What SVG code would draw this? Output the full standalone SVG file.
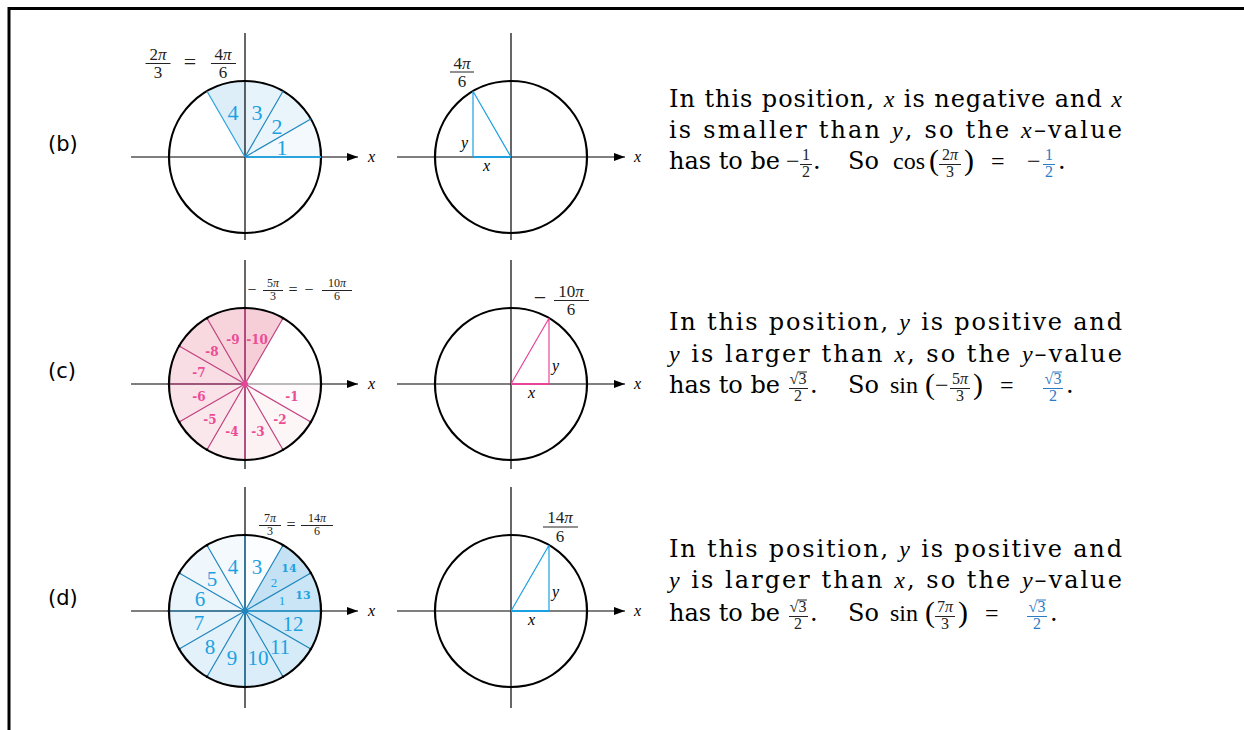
<svg xmlns="http://www.w3.org/2000/svg" width="1244" height="730" viewBox="0 0 1244 730">
<style>
.ax{stroke:#000;stroke-width:1.2;fill:none}
.circ{fill:none;stroke:#000;stroke-width:2.2}
.t{font-family:"DejaVu Serif",serif;font-size:24px;fill:#000}
.mi{font-family:"Liberation Serif",serif;font-style:italic}
.rm{font-family:"Liberation Serif",serif}
.fr{font-family:"Liberation Serif",serif;font-size:17px;text-anchor:middle;fill:#222}
.f15{font-size:16px}
.frs{font-family:"Liberation Serif",serif;font-size:12px;text-anchor:middle;fill:#222}
.fb{stroke:#222;stroke-width:1}
.lab{font-family:"DejaVu Sans",sans-serif;font-size:21px;fill:#000}
.axl{font-family:"Liberation Serif",serif;font-style:italic;font-size:16px;fill:#000}
.bn{font-family:"Liberation Serif",serif;font-size:22px;fill:#1ba1e2;text-anchor:middle}
.dn{font-family:"Liberation Serif",serif;font-size:21px;fill:#1ba1e2;text-anchor:middle}
.ds{font-family:"Liberation Serif",serif;font-size:13px;fill:#1ba1e2;text-anchor:middle}
.db{font-family:"DejaVu Serif",serif;font-weight:bold;font-size:11px;fill:#1ba1e2;text-anchor:middle}
.cn{font-family:"DejaVu Serif",serif;font-weight:bold;font-size:12px;fill:#ec4c95;text-anchor:middle}
.bs{fill:#1b8fd6}
.cs{fill:#e0607e}
.bl{stroke:#1f86bd;stroke-width:1.2;fill:none}
.pl{stroke:#c0407e;stroke-width:1.2;fill:none}
.tri{fill:none;stroke-width:1.2}
.blue{fill:#2b7bc4}
.bbar{stroke:#2b7bc4;stroke-width:1}
.par{font-family:"Liberation Serif",serif;font-size:30px;fill:#000}
.op{font-family:"Liberation Serif",serif;font-size:24px;fill:#000}
</style>
<defs>
<marker id="arr" markerWidth="12" markerHeight="10" refX="11" refY="5" orient="auto" markerUnits="userSpaceOnUse"><path d="M0,1 L11,5 L0,9 z" fill="#000"/></marker>
</defs>

<g id="frame">
<line x1="9" y1="8.5" x2="1244" y2="8.5" stroke="#000" stroke-width="3"/>
<line x1="9" y1="7" x2="9" y2="730" stroke="#000" stroke-width="3"/>
</g>

<g id="labels">
<text class="lab" x="48" y="151">(b)</text>
<text class="lab" x="48" y="378">(c)</text>
<text class="lab" x="48" y="605">(d)</text>
</g>

<!-- ROW B -->
<g id="b-left">
<path class="bs" fill-opacity="0.05" d="M245,157 L321,157 A76,76 0 0 0 310.82,119 Z"/>
<path class="bs" fill-opacity="0.09" d="M245,157 L310.82,119 A76,76 0 0 0 283,91.18 Z"/>
<path class="bs" fill-opacity="0.11" d="M245,157 L283,91.18 A76,76 0 0 0 245,81 Z"/>
<path class="bs" fill-opacity="0.15" d="M245,157 L245,81 A76,76 0 0 0 207,91.18 Z"/>
<line class="ax" x1="131" y1="157" x2="358" y2="157" marker-end="url(#arr)"/>
<line class="ax" x1="245" y1="33" x2="245" y2="240"/>
<circle class="circ" cx="245" cy="157" r="76"/>
<line x1="245" y1="157" x2="321" y2="157" stroke="#29a3dd" stroke-width="2"/>
<line class="bl" x1="245" y1="157" x2="310.82" y2="119"/>
<line class="bl" x1="245" y1="157" x2="283" y2="91.18"/>
<line x1="245" y1="157" x2="207" y2="91.18" stroke="#29a3dd" stroke-width="1.2"/>
<text class="bn" x="282" y="155">1</text>
<text class="bn" x="277" y="134">2</text>
<text class="bn" x="257" y="120">3</text>
<text class="bn" x="233" y="120">4</text>
<text class="axl" x="368" y="162">x</text>
<text class="fr" x="158" y="60">2<tspan class="mi">π</tspan></text>
<line class="fb" x1="145.5" y1="63.5" x2="170.5" y2="63.5"/>
<text class="fr" x="158" y="78">3</text>
<text class="fr" x="190" y="69" style="font-size:22px">=</text>
<text class="fr" x="223" y="60">4<tspan class="mi">π</tspan></text>
<line class="fb" x1="211" y1="63.5" x2="236" y2="63.5"/>
<text class="fr" x="223" y="78">6</text>
</g>

<g id="b-right">
<line class="ax" x1="397" y1="157" x2="625" y2="157" marker-end="url(#arr)"/>
<line class="ax" x1="511" y1="33" x2="511" y2="240"/>
<circle class="circ" cx="511" cy="157" r="76"/>
<path class="tri" stroke="#1ba1e2" d="M473,91.18 L473,157 M511,157 L473,91.18"/>
<line x1="473" y1="157" x2="511" y2="157" stroke="#1ba1e2" stroke-width="2.2"/>
<text class="axl" x="461" y="148">y</text>
<text class="axl" x="483" y="171">x</text>
<text class="axl" x="634" y="162">x</text>
<text class="fr" x="462" y="69">4<tspan class="mi">π</tspan></text>
<line class="fb" x1="450" y1="72" x2="474" y2="72"/>
<text class="fr" x="462" y="87">6</text>
</g>

<g id="b-text">
<text class="t" x="669" y="107" textLength="453" lengthAdjust="spacing">In this position, <tspan class="mi">x</tspan> is negative and <tspan class="mi">x</tspan></text>
<text class="t" x="669" y="138" textLength="453" lengthAdjust="spacing">is smaller than <tspan class="mi">y</tspan>, so the <tspan class="mi">x</tspan>–value</text>
<text class="t" x="669" y="169">has to be</text>
<text class="op" x="786" y="169">−</text>
<text class="fr f15" x="806" y="160">1</text>
<line class="fb" x1="800" y1="164.5" x2="812" y2="164.5"/>
<text class="fr f15" x="806" y="177">2</text>
<text class="t" x="813" y="169">.</text>
<text class="t" x="848" y="169">So</text>
<text class="op" x="893" y="169">cos</text>
<text class="par" x="929" y="170">(</text>
<text class="fr f15" x="950" y="160">2<tspan class="mi">π</tspan></text>
<line class="fb" x1="939" y1="164.5" x2="961" y2="164.5"/>
<text class="fr f15" x="950" y="177">3</text>
<text class="par" x="964" y="170">)</text>
<text class="op" x="991" y="169">=</text>
<text class="op blue" x="1027" y="169">−</text>
<text class="fr f15 blue" x="1049" y="160">1</text>
<line class="bbar" x1="1043" y1="164.5" x2="1055" y2="164.5"/>
<text class="fr f15 blue" x="1049" y="177">2</text>
<text class="t" x="1058" y="169">.</text>
</g>

<!-- ROW C -->
<g id="c-left">
<path class="cs" fill-opacity="0.03" d="M245,384 L321,384 A76,76 0 0 1 310.82,422 Z"/>
<path class="cs" fill-opacity="0.06" d="M245,384 L310.82,422 A76,76 0 0 1 283,449.82 Z"/>
<path class="cs" fill-opacity="0.09" d="M245,384 L283,449.82 A76,76 0 0 1 245,460 Z"/>
<path class="cs" fill-opacity="0.12" d="M245,384 L245,460 A76,76 0 0 1 207,449.82 Z"/>
<path class="cs" fill-opacity="0.15" d="M245,384 L207,449.82 A76,76 0 0 1 179.18,422 Z"/>
<path class="cs" fill-opacity="0.18" d="M245,384 L179.18,422 A76,76 0 0 1 169,384 Z"/>
<path class="cs" fill-opacity="0.21" d="M245,384 L169,384 A76,76 0 0 1 179.18,346 Z"/>
<path class="cs" fill-opacity="0.24" d="M245,384 L179.18,346 A76,76 0 0 1 207,318.18 Z"/>
<path class="cs" fill-opacity="0.27" d="M245,384 L207,318.18 A76,76 0 0 1 245,308 Z"/>
<path class="cs" fill-opacity="0.31" d="M245,384 L245,308 A76,76 0 0 1 283,318.18 Z"/>
<line class="ax" x1="131" y1="384" x2="358" y2="384" marker-end="url(#arr)"/>
<line class="ax" x1="245" y1="260" x2="245" y2="469"/>
<circle class="circ" cx="245" cy="384" r="76"/>
<line x1="245" y1="384" x2="321" y2="384" stroke="#bbb" stroke-width="2"/>
<path class="pl" d="M245,384 L310.82,422 M245,384 L283,449.82 M245,384 L207,449.82 M245,384 L179.18,422 M245,384 L169,384 M245,384 L179.18,346 M245,384 L207,318.18 M245,384 L283,318.18"/>
<path stroke="#e8459a" stroke-width="1.2" d="M245,308 L245,460"/>
<circle cx="245" cy="384" r="3" fill="#e8459a"/>
<g fill="#000">
<circle cx="310.82" cy="422" r="1.3"/><circle cx="283" cy="449.82" r="1.3"/><circle cx="245" cy="460" r="1.3"/><circle cx="207" cy="449.82" r="1.3"/><circle cx="179.18" cy="422" r="1.3"/><circle cx="169" cy="384" r="1.3"/><circle cx="179.18" cy="346" r="1.3"/><circle cx="207" cy="318.18" r="1.3"/><circle cx="245" cy="308" r="1.3"/><circle cx="283" cy="318.18" r="1.3"/><circle cx="321" cy="384" r="1.3"/>
</g>
<text class="cn" x="292" y="401">-1</text>
<text class="cn" x="280" y="424">-2</text>
<text class="cn" x="258" y="436">-3</text>
<text class="cn" x="232" y="436">-4</text>
<text class="cn" x="210" y="424">-5</text>
<text class="cn" x="199" y="401">-6</text>
<text class="cn" x="199" y="377">-7</text>
<text class="cn" x="212" y="356">-8</text>
<text class="cn" x="233" y="344">-9</text>
<text class="cn" x="257" y="344">-10</text>
<text class="axl" x="368" y="389">x</text>
<text class="frs" x="252" y="295" style="font-size:16px">−</text>
<text class="frs" x="273" y="287">5<tspan class="mi">π</tspan></text>
<line class="fb" x1="263" y1="290.5" x2="283" y2="290.5" stroke-width="0.8"/>
<text class="frs" x="273" y="300">3</text>
<text class="frs" x="293" y="295" style="font-size:16px">=</text>
<text class="frs" x="309" y="295" style="font-size:16px">−</text>
<text class="frs" x="337" y="287">10<tspan class="mi">π</tspan></text>
<line class="fb" x1="322" y1="290.5" x2="352" y2="290.5" stroke-width="0.8"/>
<text class="frs" x="337" y="300">6</text>
</g>

<g id="c-right">
<line class="ax" x1="397" y1="384" x2="625" y2="384" marker-end="url(#arr)"/>
<line class="ax" x1="511" y1="260" x2="511" y2="469"/>
<circle class="circ" cx="511" cy="384" r="76"/>
<path class="tri" stroke="#e8459a" d="M549,318.18 L549,384 M511,384 L549,318.18"/>
<line x1="511" y1="384" x2="549" y2="384" stroke="#e8459a" stroke-width="2.2"/>
<text class="axl" x="552" y="371">y</text>
<text class="axl" x="528" y="398">x</text>
<text class="axl" x="634" y="389">x</text>
<text class="fr" x="540" y="305" style="font-size:22px">−</text>
<text class="fr" x="571" y="297">10<tspan class="mi">π</tspan></text>
<line class="fb" x1="554" y1="300.5" x2="589" y2="300.5"/>
<text class="fr" x="571" y="315">6</text>
</g>

<g id="c-text">
<text class="t" x="669" y="330" textLength="453" lengthAdjust="spacing">In this position, <tspan class="mi">y</tspan> is positive and</text>
<text class="t" x="669" y="362" textLength="453" lengthAdjust="spacing"><tspan class="mi">y</tspan> is larger than <tspan class="mi">x</tspan>, so the <tspan class="mi">y</tspan>–value</text>
<text class="t" x="669" y="393">has to be</text>
<text class="fr f15" x="798" y="384">√3</text>
<line class="fb" x1="798" y1="372" x2="807" y2="372"/>
<line class="fb" x1="789" y1="388.5" x2="808" y2="388.5"/>
<text class="fr f15" x="798" y="401">2</text>
<text class="t" x="810" y="393">.</text>
<text class="t" x="848" y="393">So</text>
<text class="op" x="890" y="393">sin</text>
<text class="par" x="925" y="394">(</text>
<text class="op" x="935" y="393">−</text>
<text class="fr f15" x="960" y="384">5<tspan class="mi">π</tspan></text>
<line class="fb" x1="950" y1="388.5" x2="970" y2="388.5"/>
<text class="fr f15" x="960" y="401">3</text>
<text class="par" x="973" y="394">)</text>
<text class="op" x="1000" y="393">=</text>
<text class="fr f15 blue" x="1053" y="384">√3</text>
<line class="bbar" x1="1053" y1="372" x2="1062" y2="372"/>
<line class="bbar" x1="1043" y1="388.5" x2="1063" y2="388.5"/>
<text class="fr f15 blue" x="1053" y="401">2</text>
<text class="t" x="1066" y="393">.</text>
</g>

<!-- ROW D -->
<g id="d-left">
<path class="bs" fill-opacity="0.23" d="M245,611 L321,611 A76,76 0 0 0 310.82,573 Z"/>
<path class="bs" fill-opacity="0.26" d="M245,611 L310.82,573 A76,76 0 0 0 283,545.18 Z"/>
<path class="bs" fill-opacity="0.02" d="M245,611 L283,545.18 A76,76 0 0 0 245,535 Z"/>
<path class="bs" fill-opacity="0.05" d="M245,611 L245,535 A76,76 0 0 0 207,545.18 Z"/>
<path class="bs" fill-opacity="0.07" d="M245,611 L207,545.18 A76,76 0 0 0 179.18,573 Z"/>
<path class="bs" fill-opacity="0.09" d="M245,611 L179.18,573 A76,76 0 0 0 169,611 Z"/>
<path class="bs" fill-opacity="0.11" d="M245,611 L169,611 A76,76 0 0 0 179.18,649 Z"/>
<path class="bs" fill-opacity="0.12" d="M245,611 L179.18,649 A76,76 0 0 0 207,676.82 Z"/>
<path class="bs" fill-opacity="0.14" d="M245,611 L207,676.82 A76,76 0 0 0 245,687 Z"/>
<path class="bs" fill-opacity="0.16" d="M245,611 L245,687 A76,76 0 0 0 283,676.82 Z"/>
<path class="bs" fill-opacity="0.18" d="M245,611 L283,676.82 A76,76 0 0 0 310.82,649 Z"/>
<path class="bs" fill-opacity="0.20" d="M245,611 L310.82,649 A76,76 0 0 0 321,611 Z"/>
<line class="ax" x1="131" y1="611" x2="358" y2="611" stroke="#333" marker-end="url(#arr)"/>
<line class="ax" x1="245" y1="487" x2="245" y2="708"/>
<circle class="circ" cx="245" cy="611" r="76"/>
<path class="bl" d="M245,611 L310.82,573 M245,611 L283,545.18 M245,611 L245,535 M245,611 L207,545.18 M245,611 L179.18,573 M245,611 L169,611 M245,611 L179.18,649 M245,611 L207,676.82 M245,611 L245,687 M245,611 L283,676.82 M245,611 L310.82,649"/>
<line x1="245" y1="611" x2="321" y2="611" stroke="#29a3dd" stroke-width="1.6"/>
<circle cx="245" cy="611" r="3" fill="#1f86bd"/>
<g fill="#000">
<circle cx="310.82" cy="573" r="1.3"/><circle cx="283" cy="545.18" r="1.3"/><circle cx="245" cy="535" r="1.3"/><circle cx="207" cy="545.18" r="1.3"/><circle cx="179.18" cy="573" r="1.3"/><circle cx="169" cy="611" r="1.3"/><circle cx="179.18" cy="649" r="1.3"/><circle cx="207" cy="676.82" r="1.3"/><circle cx="245" cy="687" r="1.3"/><circle cx="283" cy="676.82" r="1.3"/><circle cx="310.82" cy="649" r="1.3"/><circle cx="321" cy="611" r="1.3"/>
</g>
<text class="dn" x="257" y="574">3</text>
<text class="dn" x="233" y="574">4</text>
<text class="dn" x="212" y="586">5</text>
<text class="dn" x="200" y="606">6</text>
<text class="dn" x="199" y="630">7</text>
<text class="dn" x="210" y="654">8</text>
<text class="dn" x="232" y="665">9</text>
<text class="dn" x="258" y="665">10</text>
<text class="dn" x="280" y="654">11</text>
<text class="dn" x="293" y="631">12</text>
<text class="db" x="289" y="572">14</text>
<text class="ds" x="274" y="587">2</text>
<text class="db" x="303" y="599">13</text>
<text class="ds" x="282" y="605">1</text>
<text class="axl" x="368" y="616">x</text>
<text class="frs" x="270" y="522">7<tspan class="mi">π</tspan></text>
<line class="fb" x1="259" y1="525.5" x2="281" y2="525.5" stroke-width="0.8"/>
<text class="frs" x="270" y="535">3</text>
<text class="frs" x="291" y="530" style="font-size:16px">=</text>
<text class="frs" x="317" y="522">14<tspan class="mi">π</tspan></text>
<line class="fb" x1="301" y1="525.5" x2="333" y2="525.5" stroke-width="0.8"/>
<text class="frs" x="317" y="535">6</text>
</g>

<g id="d-right">
<line class="ax" x1="397" y1="611" x2="625" y2="611" stroke="#444" marker-end="url(#arr)"/>
<line class="ax" x1="511" y1="487" x2="511" y2="708"/>
<circle class="circ" cx="511" cy="611" r="76"/>
<path class="tri" stroke="#1ba1e2" d="M549,545.18 L549,611 M511,611 L549,545.18"/>
<line x1="511" y1="611" x2="549" y2="611" stroke="#1ba1e2" stroke-width="2.2"/>
<text class="axl" x="552" y="597">y</text>
<text class="axl" x="528" y="625">x</text>
<text class="axl" x="634" y="616">x</text>
<text class="fr" x="560" y="523">14<tspan class="mi">π</tspan></text>
<line class="fb" x1="543" y1="527" x2="578" y2="527"/>
<text class="fr" x="560" y="542">6</text>
</g>

<g id="d-text">
<text class="t" x="669" y="557" textLength="453" lengthAdjust="spacing">In this position, <tspan class="mi">y</tspan> is positive and</text>
<text class="t" x="669" y="588" textLength="453" lengthAdjust="spacing"><tspan class="mi">y</tspan> is larger than <tspan class="mi">x</tspan>, so the <tspan class="mi">y</tspan>–value</text>
<text class="t" x="669" y="621">has to be</text>
<text class="fr f15" x="798" y="612">√3</text>
<line class="fb" x1="798" y1="600" x2="807" y2="600"/>
<line class="fb" x1="789" y1="616.5" x2="808" y2="616.5"/>
<text class="fr f15" x="798" y="629">2</text>
<text class="t" x="810" y="621">.</text>
<text class="t" x="848" y="621">So</text>
<text class="op" x="890" y="621">sin</text>
<text class="par" x="925" y="622">(</text>
<text class="fr f15" x="945" y="612">7<tspan class="mi">π</tspan></text>
<line class="fb" x1="935" y1="616.5" x2="955" y2="616.5"/>
<text class="fr f15" x="945" y="629">3</text>
<text class="par" x="958" y="622">)</text>
<text class="op" x="985" y="621">=</text>
<text class="fr f15 blue" x="1037" y="612">√3</text>
<line class="bbar" x1="1037" y1="600" x2="1046" y2="600"/>
<line class="bbar" x1="1027" y1="616.5" x2="1047" y2="616.5"/>
<text class="fr f15 blue" x="1037" y="629">2</text>
<text class="t" x="1050" y="621">.</text>
</g>
</svg>
